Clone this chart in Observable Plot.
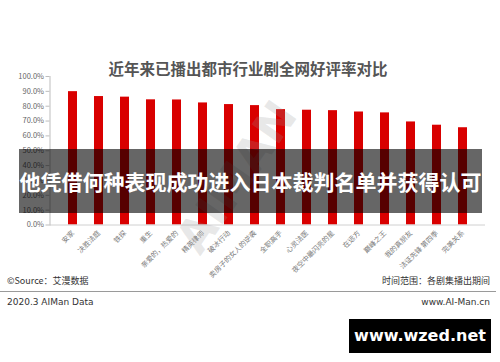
<!DOCTYPE html>
<html><head><meta charset="utf-8">
<script src="https://cdn.jsdelivr.net/npm/d3@7"></script>
<script src="https://cdn.jsdelivr.net/npm/@observablehq/plot@0.6"></script>
<style>
html,body{margin:0;padding:0;background:#fff;}
#wrap{position:relative;width:500px;height:362px;overflow:hidden;font-family:"Noto Sans CJK SC","Noto Sans",sans-serif;background:#fff;}
#chart{position:absolute;left:0;top:0;}
.abs{position:absolute;white-space:nowrap;}
</style></head>
<body>
<div id="wrap">
  <div id="chart"></div>
  <div class="abs" id="wm" style="left:150px;top:150px;font-size:46px;font-weight:bold;color:rgba(150,150,150,0.22);transform:rotate(-55deg);transform-origin:center;font-family:'DejaVu Sans',sans-serif;">AIMAN</div>
  <div class="abs" id="title" style="left:0;width:496px;top:58px;text-align:center;font-size:15.5px;font-weight:bold;color:#555;line-height:20px;"></div>
  <div class="abs" id="banner" style="left:19px;top:149px;width:463px;height:64px;background:rgba(0,0,0,0.6);color:#fff;font-size:21px;font-weight:bold;line-height:64px;text-align:center;"></div>
  <div class="abs" id="src" style="left:7px;top:274px;font-size:9px;color:#333;line-height:14px;"></div>
  <div class="abs" id="range" style="right:10px;top:274px;font-size:9px;color:#333;line-height:14px;"></div>
  <div class="abs" style="left:0;top:291px;width:496px;height:1px;background:#9a9a9a;"></div>
  <div class="abs" id="brand" style="left:7px;top:295px;font-size:9px;color:#333;line-height:14px;font-family:'DejaVu Sans',sans-serif;"></div>
  <div class="abs" id="site" style="right:10px;top:295px;font-size:9px;color:#333;line-height:14px;font-family:'DejaVu Sans',sans-serif;"></div>
  <div class="abs" id="wzed" style="left:349px;top:319px;width:142px;height:34px;background:#000;color:#fff;font-size:16px;font-weight:bold;line-height:34px;text-align:center;font-family:'DejaVu Sans',sans-serif;"></div>
</div>
<script>
const titleText = "近年来已播出都市行业剧全网好评率对比";
const bannerText = "他凭借何种表现成功进入日本裁判名单并获得认可";
const sourceText = "©Source：艾漫数据";
const rangeText = "时间范围：各剧集播出期间";
const brandText = "2020.3 AIMan Data";
const siteText = "www.AI-Man.cn";
const wzedText = "www.wzed.net";

const dramas = ["安家","决胜法庭","铁探","重生","亲爱的，热爱的","精英律师","破冰行动","卖房子的女人的逆袭","全职高手","心灵法医","夜空中最闪亮的星","在远方","巅峰之王","我的真朋友","法证先锋 第四季","完美关系"];
const ratings = [89.8,86.5,86.1,84.3,84.2,82.2,81.1,80.4,77.7,77.3,77.0,76.1,75.5,69.4,67.2,65.5];
const yTicks = [0,10,20,30,40,50,60,70,80,90,100];

document.getElementById("title").textContent = titleText;
document.getElementById("banner").textContent = bannerText;
document.getElementById("src").textContent = sourceText;
document.getElementById("range").textContent = rangeText;
document.getElementById("brand").textContent = brandText;
document.getElementById("site").textContent = siteText;
document.getElementById("wzed").textContent = wzedText;

const data = dramas.map((d,i)=>({drama:d, value:ratings[i]}));

const chart = Plot.plot({
  width: 500,
  height: 290,
  marginTop: 76,
  marginBottom: 65.5,
  marginLeft: 49.5,
  marginRight: 15,
  style: {background:"transparent", fontFamily:"'Noto Sans CJK SC','Noto Sans',sans-serif"},
  x: {domain: dramas, padding: 0.66, label: null},
  y: {domain: [0,100], label: null},
  marks: [
    Plot.barY(data, {x:"drama", y:"value", fill:"#d90000"}),
    Plot.ruleY([0], {stroke:"#d0d0d0", strokeWidth:1}),
    Plot.axisY({ticks: yTicks, tickFormat: d => d.toFixed(1) + "%", tickSize: 4, tickPadding: 2, fontSize: 7.5, color:"#666", stroke:"#bdbdbd", label:null}),
    Plot.frame({anchor:"left", stroke:"#bdbdbd"}),
    Plot.axisX({tickRotate: -45, tickSize: 0, tickPadding: 7, fontSize: 7, color:"#7a7a7a", label:null})
  ]
});
document.getElementById("chart").appendChild(chart);
</script>
</body></html>
